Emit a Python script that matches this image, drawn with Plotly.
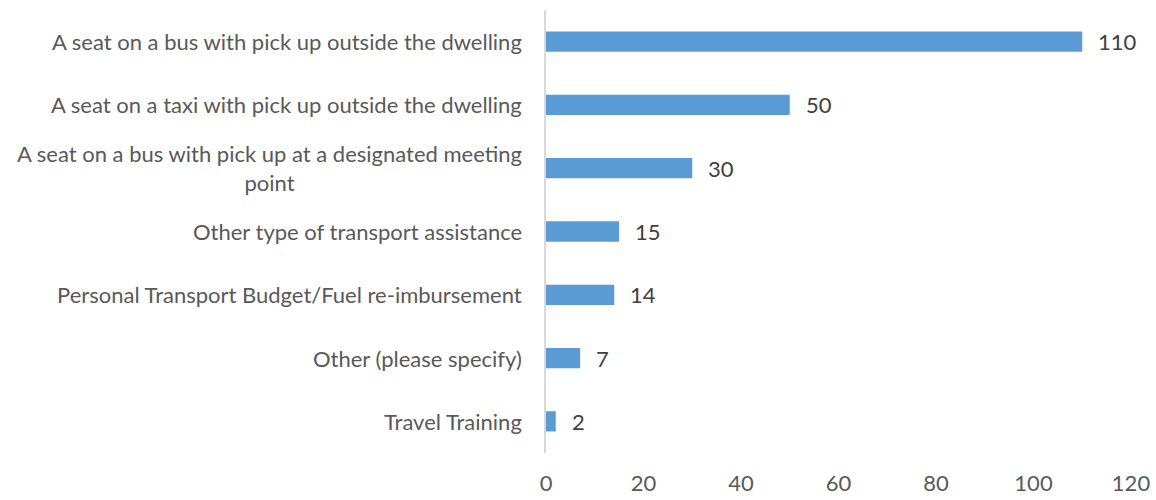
import plotly.graph_objects as go

# Transport assistance types and the number of responses for each
categories = [
    "A seat on a bus with pick up outside the dwelling",
    "A seat on a taxi with pick up outside the dwelling",
    "A seat on a bus with pick up at a designated meeting<br>point",
    "Other type of transport assistance",
    "Personal Transport Budget/Fuel re-imbursement",
    "Other (please specify)",
    "Travel Training",
]
counts = [110, 50, 30, 15, 14, 7, 2]
x_ticks = [0, 20, 40, 60, 80, 100, 120]

FONT = "Lato, Carlito, Calibri, sans-serif"
LABEL_GREY = "#595959"
VALUE_GREY = "#404040"

fig = go.Figure(
    go.Bar(
        x=counts,
        y=categories,
        orientation="h",
        marker=dict(color="#5B9BD5", line=dict(width=0)),
        hoverinfo="skip",
    )
)

annotations = []
# category labels, right-aligned against the axis, wrapped lines centred
for cat in categories:
    annotations.append(dict(
        x=0, xref="paper", y=cat, yref="y",
        text=cat, showarrow=False,
        xanchor="right", yanchor="middle", align="center",
        xshift=-22,
        font=dict(family=FONT, size=22, color=LABEL_GREY),
    ))
# value labels just past the end of each bar
for cat, v in zip(categories, counts):
    annotations.append(dict(
        x=v, xref="x", y=cat, yref="y",
        text=str(v), showarrow=False,
        xanchor="left", yanchor="middle",
        xshift=14,
        font=dict(family=FONT, size=22, color=VALUE_GREY),
    ))

fig.update_layout(
    width=1156,
    height=500,
    margin=dict(l=546, r=25, t=10, b=47, autoexpand=False),
    paper_bgcolor="white",
    plot_bgcolor="white",
    bargap=0.68,
    showlegend=False,
    annotations=annotations,
    xaxis=dict(
        range=[0, 120],
        tickvals=x_ticks,
        ticktext=[str(t) for t in x_ticks],
        showgrid=False,
        zeroline=False,
        showline=False,
        ticks="",
        ticklabelstandoff=15,
        automargin=False,
        tickfont=dict(family=FONT, size=22, color=LABEL_GREY),
        fixedrange=True,
    ),
    yaxis=dict(
        categoryorder="array",
        categoryarray=categories[::-1],
        autorange=False,
        range=[-0.5, len(categories) - 0.5],
        showticklabels=False,
        showgrid=False,
        zeroline=False,
        showline=True,
        linecolor="#D9D9D9",
        linewidth=1.5,
        ticks="",
        automargin=False,
        fixedrange=True,
    ),
)

fig.write_html("out.html")
